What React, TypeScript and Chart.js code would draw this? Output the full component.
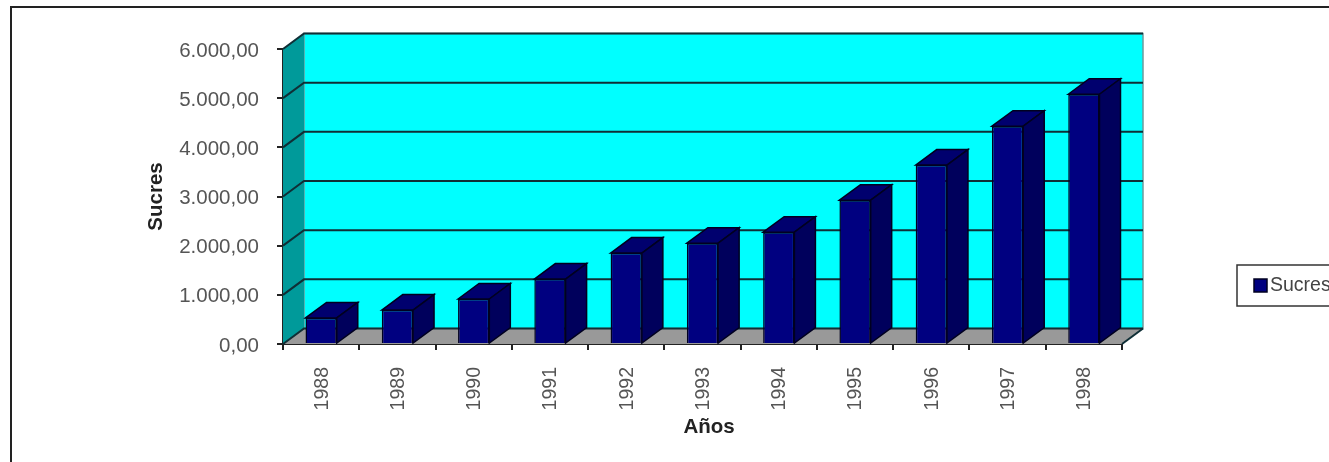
import React, { useEffect, useRef } from "react";
import { Chart, registerables } from "chart.js";

Chart.register(...registerables);

const years = ["1988", "1989", "1990", "1991", "1992", "1993", "1994", "1995", "1996", "1997", "1998"];
const sucres = [530, 690, 915, 1320, 1850, 2050, 2275, 2925, 3640, 4430, 5080];
const seriesName = "Sucres";
const yTitle = "Sucres";
const xTitle = "Años";

const DX = 21;
const DY = 15.5;
const FONT = "'Liberation Sans', Arial, sans-serif";

const formatTick = (v: number) => {
  const whole = String(Math.round(v)).replace(/\B(?=(\d{3})+$)/g, ".");
  return whole + ",00";
};

const poly = (ctx: CanvasRenderingContext2D, pts: number[][], fill: string | null, stroke?: string, lw = 1) => {
  ctx.beginPath();
  pts.forEach(([x, y], i) => (i ? ctx.lineTo(x, y) : ctx.moveTo(x, y)));
  ctx.closePath();
  if (fill) {
    ctx.fillStyle = fill;
    ctx.fill();
  }
  if (stroke) {
    ctx.strokeStyle = stroke;
    ctx.lineWidth = lw;
    ctx.stroke();
  }
};

const walls3d = {
  id: "walls3d",
  beforeDatasetsDraw(chart: any) {
    const { ctx, chartArea: a, scales } = chart;
    const y = scales.y;
    ctx.save();
    poly(ctx, [[a.left + DX, a.top - DY], [a.right + DX, a.top - DY], [a.right + DX, a.bottom - DY], [a.left + DX, a.bottom - DY]], "#00ffff", "#6f9a9c", 1.5);
    poly(ctx, [[a.left, a.top], [a.left + DX, a.top - DY], [a.left + DX, a.bottom - DY], [a.left, a.bottom]], "#009a9a");
    poly(ctx, [[a.left, a.bottom], [a.left + DX, a.bottom - DY], [a.right + DX, a.bottom - DY], [a.right, a.bottom]], "#999999");
    ctx.strokeStyle = "#0f2f36";
    ctx.lineWidth = 2;
    y.ticks.forEach((t: any) => {
      const py = y.getPixelForValue(t.value);
      ctx.beginPath();
      ctx.moveTo(a.left, py);
      ctx.lineTo(a.left + DX, py - DY);
      ctx.lineTo(a.right + DX, py - DY);
      ctx.stroke();
    });
    ctx.beginPath();
    ctx.moveTo(a.right, a.bottom);
    ctx.lineTo(a.right + DX, a.bottom - DY);
    ctx.stroke();
    ctx.restore();
  },
  afterDatasetsDraw(chart: any) {
    const { ctx, chartArea: a } = chart;
    const meta = chart.getDatasetMeta(0);
    ctx.save();
    meta.data.forEach((bar: any) => {
      const { x, y, base, width } = bar.getProps(["x", "y", "base", "width"], true);
      const l = x - width / 2;
      const r = x + width / 2;
      poly(ctx, [[l, y], [l + DX, y - DY], [r + DX, y - DY], [r, y]], "#00006e", "#000020", 1.5);
      poly(ctx, [[r, y], [r + DX, y - DY], [r + DX, base - DY], [r, base]], "#00005c", "#000020", 1.5);
    });
    // x-axis title, which sits a little right of the axis centre
    ctx.fillStyle = "#222222";
    ctx.font = `bold 20.5px ${FONT}`;
    ctx.textAlign = "center";
    ctx.textBaseline = "middle";
    ctx.fillText(xTitle, a.left + 426, 427);
    // legend
    const lx = 1237, ly = 265, lh = 41;
    ctx.fillStyle = "#ffffff";
    ctx.fillRect(lx, ly, 100, lh);
    ctx.strokeStyle = "#333333";
    ctx.lineWidth = 1.5;
    ctx.strokeRect(lx, ly, 100, lh);
    const ds = chart.data.datasets[0];
    ctx.fillStyle = ds.backgroundColor;
    ctx.fillRect(1254, 279, 13, 13);
    ctx.strokeStyle = "#000020";
    ctx.strokeRect(1254, 279, 13, 13);
    ctx.fillStyle = "#444444";
    ctx.font = `19.5px ${FONT}`;
    ctx.textBaseline = "middle";
    ctx.textAlign = "left";
    ctx.fillText(ds.label, 1270, 286);
    ctx.restore();
  },
};

export default function App() {
  const ref = useRef<HTMLCanvasElement>(null);
  useEffect(() => {
    const chart = new Chart(ref.current!, {
      type: "bar",
      data: {
        labels: years,
        datasets: [
          {
            label: seriesName,
            data: sucres,
            backgroundColor: "#000080",
            borderColor: "#000020",
            borderWidth: 1.5,
            barPercentage: 0.41,
            categoryPercentage: 1,
          },
        ],
      },
      options: {
        responsive: false,
        animation: false,
        layout: { padding: { left: 144, right: 207, top: 49, bottom: 25 } },
        plugins: { legend: { display: false }, tooltip: { enabled: false } },
        scales: {
          x: {
            afterFit: (s: any) => {
              s.height = 93;
            },
            grid: { drawOnChartArea: false, drawTicks: true, tickLength: 6, offset: true, color: "#222222", lineWidth: 2 },
            border: { display: true, color: "#222222", width: 2 },
            ticks: { color: "#555555", font: { family: FONT, size: 19.5 }, minRotation: 90, maxRotation: 90, padding: 17, labelOffset: 1, autoSkip: false },
          },
          y: {
            min: 0,
            max: 6000,
            afterFit: (s: any) => {
              s.width = 139;
            },
            grid: { drawOnChartArea: false, drawTicks: true, tickLength: 6, color: "#222222", lineWidth: 2 },
            border: { display: true, color: "#222222", width: 2 },
            ticks: { stepSize: 1000, color: "#555555", font: { family: FONT, size: 20.5 }, padding: 18, labelOffset: 2, callback: (v: any) => formatTick(Number(v)) },
            title: { display: true, text: yTitle, color: "#222222", font: { family: FONT, size: 20.5, weight: "bold" }, padding: 0 },
          },
        },
      },
      plugins: [walls3d],
    } as any);
    return () => chart.destroy();
  }, []);
  return (
    <div style={{ position: "absolute", left: 0, top: 0, width: 1329, height: 462, overflow: "hidden", background: "#fff" }}>
      <canvas ref={ref} width={1329} height={462} style={{ display: "block" }} />
      <div style={{ position: "absolute", left: 10, top: 6, width: 1330, height: 470, borderLeft: "2px solid #222", borderTop: "2px solid #222" }} />
    </div>
  );
}
